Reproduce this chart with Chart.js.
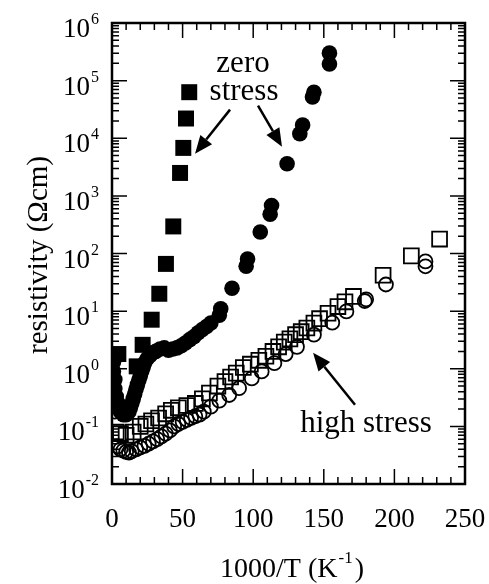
<!DOCTYPE html>
<html>
<head>
<meta charset="utf-8">
<script src="https://cdn.jsdelivr.net/npm/chart.js@4.4.0/dist/chart.umd.min.js"></script>
<style>
  html, body { margin: 0; padding: 0; background: #fff; }
  #wrap { width: 489px; height: 584px; position: relative; }
</style>
</head>
<body>
<div id="wrap"><canvas id="chart"></canvas></div>
<script>
// zero stress, filled squares
const zeroSqX = [4.5, 17.5, 21.7, 28.1, 33.5, 38.2, 43.4, 48.2, 50.5, 52.4, 54.7];
const zeroSqY = [1.8, 1.1, 2.6, 7.1, 20, 66, 295, 2500, 6800, 22000, 63000];

// zero stress, filled circles
const zeroCircX = [1, 1, 2, 2, 3, 4, 5, 6, 8, 10, 12, 13, 14, 15, 16, 17, 18, 19, 20, 21, 22, 23, 25, 27, 29, 31, 34, 37, 40, 43, 46, 49, 52, 55, 58, 61, 64, 67, 70, 76, 77, 85, 95, 96, 105, 112, 113, 124, 133, 135, 142, 143, 154, 154];
const zeroCircY = [1.3, 0.9, 0.65, 0.45, 0.33, 0.26, 0.21, 0.18, 0.16, 0.16, 0.18, 0.21, 0.25, 0.3, 0.36, 0.44, 0.53, 0.63, 0.75, 0.9, 1.05, 1.25, 1.5, 1.7, 1.9, 2.0, 2.2, 2.3, 2.1, 2.2, 2.3, 2.5, 2.8, 3.2, 3.6, 4.2, 4.8, 5.4, 6.2, 8.5, 11, 25, 60, 80, 236, 480, 680, 3600, 12000, 17000, 52000, 63000, 195000, 300000];

// high stress, open squares
const highSqX = [3, 6, 10, 15, 20, 24, 28, 33, 38, 42, 47, 53, 59, 64, 69, 75, 80, 84, 88, 93, 98, 104, 109, 114, 118, 122, 126, 130, 134, 138, 143, 147, 153, 160, 165, 171, 192, 212, 232];
const highSqY = [0.08, 0.075, 0.07, 0.08, 0.1, 0.11, 0.125, 0.14, 0.165, 0.19, 0.21, 0.23, 0.25, 0.3, 0.38, 0.5, 0.6, 0.72, 0.84, 1.05, 1.2, 1.4, 1.65, 2.0, 2.4, 2.9, 3.3, 3.9, 4.4, 5.1, 6.2, 7.4, 9.2, 12, 14.5, 18, 42, 91, 178];

// high stress, open circles
const highCircX = [1, 1.5, 2, 4, 6, 8, 10, 12, 14, 17, 20, 23, 26, 29, 32, 35, 38, 41, 44, 47, 50, 53, 56, 59, 62, 65, 70, 76, 83, 90, 99, 106, 115, 123, 131, 143, 156, 166, 179, 180, 194, 222, 222];
const highCircY = [0.55, 0.3, 0.18, 0.045, 0.04, 0.038, 0.036, 0.035, 0.037, 0.04, 0.043, 0.046, 0.05, 0.055, 0.06, 0.067, 0.075, 0.085, 0.1, 0.11, 0.12, 0.13, 0.14, 0.15, 0.16, 0.18, 0.22, 0.28, 0.35, 0.46, 0.68, 0.9, 1.25, 1.8, 2.4, 3.9, 6.3, 9.9, 15, 16, 29, 60, 73];

const xTickLabels = [0, 50, 100, 150, 200, 250];
const yTickExps = [-2, -1, 0, 1, 2, 3, 4, 5, 6];

const SERIF = '"Liberation Serif", "Times New Roman", serif';

function pts(xs, ys) {
    return xs.map((v, i) => ({ x: v, y: ys[i] }));
}

function arrow(ctx, x1, y1, x2, y2) {
    const ang = Math.atan2(y2 - y1, x2 - x1);
    const hl = 18, hw = 7.5;
    const bx = x2 - hl * Math.cos(ang), by = y2 - hl * Math.sin(ang);
    ctx.beginPath();
    ctx.moveTo(x1, y1);
    ctx.lineTo(bx, by);
    ctx.stroke();
    ctx.beginPath();
    ctx.moveTo(x2, y2);
    ctx.lineTo(bx + hw * Math.sin(ang), by - hw * Math.cos(ang));
    ctx.lineTo(bx - hw * Math.sin(ang), by + hw * Math.cos(ang));
    ctx.closePath();
    ctx.fill();
}

const framePlugin = {
    id: 'frame',
    beforeDatasetsDraw(chart) {
        const { ctx, chartArea: a, scales: { x, y } } = chart;
        ctx.save();
        ctx.strokeStyle = '#000';
        ctx.lineWidth = 1.5;
        ctx.beginPath();
        for (let v = 0; v <= 250; v += 10) {
            const px = x.getPixelForValue(v);
            const len = v % 50 === 0 ? 15 : 7;
            ctx.moveTo(px, a.bottom); ctx.lineTo(px, a.bottom - len);
            ctx.moveTo(px, a.top); ctx.lineTo(px, a.top + len);
        }
        yTickExps.forEach(e => {
            for (let m = 1; m < 10; m++) {
                if (e === 6 && m > 1) break;
                const py = y.getPixelForValue(m * Math.pow(10, e));
                const len = m === 1 ? 15 : 7;
                ctx.moveTo(a.left, py); ctx.lineTo(a.left + len, py);
                ctx.moveTo(a.right, py); ctx.lineTo(a.right - len, py);
            }
        });
        ctx.stroke();
        ctx.lineWidth = 2.5;
        ctx.strokeRect(a.left, a.top, a.right - a.left, a.bottom - a.top);
        ctx.restore();
    },
    afterDraw(chart) {
        const { ctx, scales: { x, y } } = chart;
        ctx.save();
        ctx.fillStyle = '#000';
        ctx.strokeStyle = '#000';

        // x tick labels
        ctx.font = '27px ' + SERIF;
        ctx.textAlign = 'center';
        ctx.textBaseline = 'alphabetic';
        xTickLabels.forEach(v => {
            ctx.fillText(String(v), x.getPixelForValue(v), 527);
        });

        // y tick labels 10^n
        yTickExps.forEach(e => {
            const py = y.getPixelForValue(Math.pow(10, e));
            const exp = e < 0 ? '-' + Math.abs(e) : String(e);
            ctx.font = '16px ' + SERIF;
            const ew = ctx.measureText(exp).width;
            ctx.textAlign = 'left';
            ctx.fillText(exp, 99 - ew, py + 1);
            ctx.font = '27px ' + SERIF;
            ctx.textAlign = 'right';
            ctx.fillText('10', 99 - ew - 1, py + 14);
        });

        // x title
        ctx.textAlign = 'left';
        ctx.font = '28px ' + SERIF;
        const t1 = '1000/T (K';
        const w1 = ctx.measureText(t1).width;
        ctx.font = '17px ' + SERIF;
        const sup = '-1';
        const ws = ctx.measureText(sup).width;
        ctx.font = '28px ' + SERIF;
        const w2 = ctx.measureText(')').width;
        const sx = 292 - (w1 + ws + w2 + 3) / 2;
        ctx.fillText(t1, sx, 577);
        ctx.font = '17px ' + SERIF;
        ctx.fillText(sup, sx + w1 + 1, 563);
        ctx.font = '28px ' + SERIF;
        ctx.fillText(')', sx + w1 + ws + 3, 577);

        // y title
        ctx.save();
        ctx.translate(47, 255);
        ctx.rotate(-Math.PI / 2);
        ctx.font = '29px ' + SERIF;
        ctx.textAlign = 'center';
        ctx.fillText('resistivity (\u03A9cm)', 0, 0);
        ctx.restore();

        // annotations
        ctx.font = '31px ' + SERIF;
        ctx.textAlign = 'center';
        ctx.fillText('zero', x.getPixelForValue(92.8), y.getPixelForValue(1.43e5));
        ctx.fillText('stress', x.getPixelForValue(93.5), y.getPixelForValue(4.7e4));
        ctx.fillText('high stress', x.getPixelForValue(179.9), y.getPixelForValue(0.0805));

        ctx.lineWidth = 2.5;
        arrow(ctx, x.getPixelForValue(83.6), y.getPixelForValue(3.14e4), x.getPixelForValue(58.8), y.getPixelForValue(5400));
        arrow(ctx, x.getPixelForValue(103.4), y.getPixelForValue(3.68e4), x.getPixelForValue(120.4), y.getPixelForValue(7150));
        arrow(ctx, x.getPixelForValue(172.1), y.getPixelForValue(0.237), x.getPixelForValue(142.4), y.getPixelForValue(1.9));
        ctx.restore();
    }
};

new Chart(document.getElementById('chart'), {
    type: 'scatter',
    data: {
        datasets: [
            {
                label: 'high stress (circles)',
                data: pts(highCircX, highCircY),
                pointStyle: 'circle',
                pointRadius: 7,
                borderColor: '#000',
                backgroundColor: 'rgba(0,0,0,0)',
                borderWidth: 1.8,
                order: 2
            },
            {
                label: 'high stress (squares)',
                data: pts(highSqX, highSqY),
                pointStyle: 'rect',
                pointRadius: 10.5,
                borderColor: '#000',
                backgroundColor: 'rgba(0,0,0,0)',
                borderWidth: 1.8,
                order: 3
            },
            {
                label: 'zero stress (circles)',
                data: pts(zeroCircX, zeroCircY),
                pointStyle: 'circle',
                pointRadius: 7.8,
                borderColor: '#000',
                backgroundColor: '#000',
                borderWidth: 0,
                order: 0
            },
            {
                label: 'zero stress (squares)',
                data: pts(zeroSqX, zeroSqY),
                pointStyle: 'rect',
                pointRadius: 11.3,
                borderColor: '#000',
                backgroundColor: '#000',
                borderWidth: 0,
                order: 1
            }
        ]
    },
    options: {
        responsive: true,
        maintainAspectRatio: false,
        animation: false,
        devicePixelRatio: 1,
        layout: { padding: { left: 112, right: 24, top: 23, bottom: 100 } },
        plugins: {
            legend: { display: false },
            tooltip: { enabled: false }
        },
        scales: {
            x: { type: 'linear', min: 0, max: 250, display: false },
            y: { type: 'logarithmic', min: 0.01, max: 1e6, display: false }
        }
    },
    plugins: [framePlugin]
});
</script>
</body>
</html>
